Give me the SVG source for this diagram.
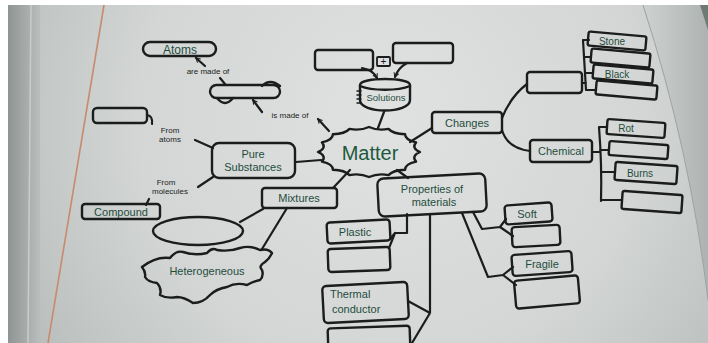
<svg xmlns="http://www.w3.org/2000/svg" width="708" height="343" viewBox="0 0 708 343">
<defs>
  <radialGradient id="page" cx="390" cy="120" r="420" gradientUnits="userSpaceOnUse">
    <stop offset="0" stop-color="#e0e2e1"/>
    <stop offset="0.6" stop-color="#d3d6d5"/>
    <stop offset="1" stop-color="#b9bebd"/>
  </radialGradient>
  <linearGradient id="leftstrip" x1="8" y1="0" x2="40" y2="0" gradientUnits="userSpaceOnUse">
    <stop offset="0" stop-color="#8f9594"/>
    <stop offset="1" stop-color="#b9bdbc"/>
  </linearGradient>
  <linearGradient id="fold" x1="640" y1="0" x2="708" y2="0" gradientUnits="userSpaceOnUse">
    <stop offset="0" stop-color="#d0d3d2"/>
    <stop offset="1" stop-color="#aeb3b2"/>
  </linearGradient>
  <marker id="arr" viewBox="0 0 10 10" refX="8" refY="5" markerWidth="6" markerHeight="6" orient="auto-start-reverse" markerUnits="userSpaceOnUse">
    <path d="M1,1 L8,5 L1,9" fill="none" stroke="#1b1d1c" stroke-width="1.8"/>
  </marker>
  <style>
    .b{fill:none;stroke:#1b1d1c;stroke-width:2.4;stroke-linejoin:round;stroke-linecap:round}
    .c{fill:none;stroke:#1b1d1c;stroke-width:2.2;stroke-linejoin:round;stroke-linecap:round}
    .t{font-family:"Liberation Sans",Arial,sans-serif;fill:#1f4d3c;font-size:11px;text-anchor:middle}
    .s{font-family:"Liberation Sans",Arial,sans-serif;fill:#1b1d1c;font-size:8px;text-anchor:middle}
    .sm{font-size:10px}
  </style>
</defs>

<!-- photo background -->
<rect x="0" y="0" width="708" height="343" fill="#ffffff"/>
<rect x="8" y="5" width="700" height="338" fill="url(#page)"/>
<rect x="8" y="5" width="32" height="338" fill="url(#leftstrip)"/>
<line x1="31" y1="5" x2="28" y2="343" stroke="#c9cccb" stroke-width="1.5"/>
<path d="M643,5 Q690,150 708,300 L708,5 Z" fill="url(#fold)"/>
<path d="M700,5 L708,5 L708,30 Z" fill="#6f7a72"/>
<path d="M643,5 Q690,150 708,300" fill="none" stroke="#9da3a1" stroke-width="1"/>
<line x1="104" y1="5" x2="48" y2="343" stroke="#c88a6e" stroke-width="1.6"/>

<g id="connectors">
  <line class="c" x1="205" y1="66" x2="196" y2="58" marker-end="url(#arr)"/>
  <line class="c" x1="225" y1="84" x2="220" y2="78"/>
  <line class="c" x1="262" y1="112" x2="253" y2="100" marker-end="url(#arr)"/>
  <line class="c" x1="329" y1="131" x2="318" y2="119" marker-end="url(#arr)"/>
  <text class="s" x="208" y="74">are made of</text>
  <text class="s" x="290" y="118">is made of</text>

  <path class="c" d="M147,115 Q153,116 152,124"/>
  <text class="s" x="170" y="133">From</text>
  <text class="s" x="170" y="142">atoms</text>
  <line class="c" x1="195" y1="140" x2="213" y2="148"/>
  <text class="s" x="166" y="185">From</text>
  <text class="s" x="170" y="194">molecules</text>
  <line class="c" x1="198" y1="187" x2="213" y2="177"/>
  <line class="c" x1="149" y1="199" x2="146" y2="205"/>

  <line class="c" x1="296" y1="162" x2="321" y2="160"/>
  <line class="c" x1="350" y1="170" x2="333" y2="188"/>
  <line class="c" x1="384" y1="112" x2="378" y2="128"/>
  <line class="c" x1="410" y1="142" x2="432" y2="128"/>
  <line class="c" x1="397" y1="170" x2="408" y2="178"/>

  <path class="c" d="M362,68 Q373,70 377,78" marker-end="url(#arr)"/>
  <path class="c" d="M407,63 Q398,68 395,77" marker-end="url(#arr)"/>

  <path class="c" d="M502,118 Q511,96 527,84"/>
  <path class="c" d="M502,130 Q507,148 530,151"/>
  <path class="c" d="M582,83 H586 M583,40 L586,90 M583,40 H589 M584,57 H591 M585,73 H593 M586,90 H596"/>
  <path class="c" d="M592,152 H600 M599,127 Q602,165 601,201 M599,127 H607 M600,150 H609 M601,172 H615 M601,200 H622"/>

  <line class="c" x1="263" y1="209" x2="240" y2="222"/>
  <line class="c" x1="287" y1="208" x2="262" y2="249"/>

  <path class="c" d="M407,214 V233 H395 L390,239 M395,233 L389,248"/>
  <path class="c" d="M430,214 V313 L408,301 M430,313 L412,343"/>
  <path class="c" d="M473,212 L482,229 L500,227 L506,219 M500,227 L513,236"/>
  <path class="c" d="M462,213 L488,277 L503,275 L513,267 M503,275 L516,285"/>
</g>

<g id="atoms">
  <rect class="b" x="143" y="42" width="73" height="14" rx="7"/>
  <text class="t" x="180" y="53.5" style="font-size:12px">Atoms</text>
</g>
<g id="blank-particle">
  <rect class="b" x="210" y="85" width="70" height="13" rx="6.5"/>
  <path class="b" d="M262,86 Q270,78 280,86"/>
  <path class="b" d="M217,98 Q225,108 233,98"/>
</g>
<g id="blank-left">
  <rect class="b" x="93" y="108" width="54" height="15" rx="4"/>
</g>
<g id="pure-substances">
  <rect class="b" x="212" y="143" width="83" height="35" rx="7"/>
  <text class="t" x="253" y="158">Pure</text>
  <text class="t" x="253" y="171">Substances</text>
</g>
<g id="compound">
  <rect class="b" x="82" y="204" width="78" height="15" rx="3"/>
  <text class="t" x="121" y="215.5">Compound</text>
</g>
<g id="mixtures">
  <rect class="b" x="262" y="188" width="75" height="20" rx="3"/>
  <text class="t" x="299" y="202">Mixtures</text>
</g>
<g id="matter">
  <path class="b" d="M420,152 Q411,155.9 416.1,161.6 Q405,164 405.1,169.7 Q393,170 388.5,175.1 Q378,173 369,177 Q360,173 349.5,175.1 Q345,170 332.9,169.7 Q333,164 321.9,161.6 Q327,155.9 318,152 Q327,148.1 321.9,142.4 Q333,140 332.9,134.3 Q345,134 349.5,128.9 Q360,131 369,127 Q378,131 388.5,128.9 Q393,134 405.1,134.3 Q405,140 416.1,142.4 Q411,148.1 420,152 Z"/>
  <text class="t" x="370" y="160" style="font-size:20px;fill:#1d5a3e">Matter</text>
</g>
<g id="solutions">
  <path class="b" d="M360,85 C360,77 410,77 410,85 L410,100 C410,114 360,114 360,100 Z"/>
  <path class="b" d="M360,86 C372,91 398,91 410,86"/>
  <path class="c" d="M357,91 H361 M357,95 H361 M357,99 H361 M357,103 H361" style="stroke-width:1.4"/>
  <text class="t" x="386" y="101" style="font-size:9.5px">Solutions</text>
</g>
<g id="blank-sol-left">
  <rect class="b" x="315" y="50" width="58" height="20" rx="3"/>
</g>
<g id="plus">
  <rect class="b" x="377" y="57" width="13" height="9" rx="1" style="stroke-width:1.8"/>
  <text class="s" x="383.5" y="65" style="font-size:10px">+</text>
</g>
<g id="blank-sol-right">
  <rect class="b" x="393" y="43" width="60" height="20" rx="3"/>
</g>
<g id="changes">
  <rect class="b" x="432" y="112" width="70" height="21" rx="3"/>
  <text class="t" x="467" y="127">Changes</text>
</g>
<g id="blank-physical">
  <rect class="b" x="527" y="72" width="55" height="21" rx="3"/>
</g>
<g id="stone">
  <rect class="b" x="588" y="34" width="58" height="14" rx="2" transform="rotate(5 617 41)"/>
  <text class="t sm" x="612" y="45">Stone</text>
</g>
<g id="blank-p2">
  <rect class="b" x="591" y="51" width="59" height="14" rx="2" transform="rotate(5 620 58)"/>
</g>
<g id="black">
  <rect class="b" x="593" y="67" width="60" height="14" rx="2" transform="rotate(5 623 74)"/>
  <text class="t sm" x="617" y="78">Black</text>
</g>
<g id="blank-p4">
  <rect class="b" x="596" y="83" width="61" height="14" rx="2" transform="rotate(5 626 90)"/>
</g>
<g id="chemical">
  <rect class="b" x="530" y="140" width="62" height="22" rx="3"/>
  <text class="t" x="561" y="155">Chemical</text>
</g>
<g id="rot">
  <rect class="b" x="607" y="121" width="58" height="15" rx="2" transform="rotate(4 636 128)"/>
  <text class="t sm" x="626" y="132">Rot</text>
</g>
<g id="blank-c2">
  <rect class="b" x="609" y="143" width="59" height="14" rx="2" transform="rotate(4 638 150)"/>
</g>
<g id="burns">
  <rect class="b" x="615" y="164" width="62" height="18" rx="2" transform="rotate(4 646 173)"/>
  <text class="t sm" x="640" y="177">Burns</text>
</g>
<g id="blank-c4">
  <rect class="b" x="622" y="193" width="60" height="18" rx="2" transform="rotate(4 652 202)"/>
</g>
<g id="properties">
  <rect class="b" x="378" y="176" width="108" height="38" rx="6" transform="rotate(-3 432 195)"/>
  <text class="t" x="432" y="193">Properties of</text>
  <text class="t" x="434" y="206">materials</text>
</g>
<g id="blank-ellipse">
  <ellipse class="b" cx="198" cy="231" rx="45" ry="14"/>
</g>
<g id="heterogeneous">
  <path class="b" d="M142,267 Q156,256 170,258 Q176,250 183,252 Q195,256 207,253 Q212,247 217,250 Q229,252 240,248 Q250,245 260,250 Q268,248 272,253 Q270,258 265,262 Q258,266 262,270 Q264,276 260,280 Q254,281 247,285 Q236,282 227,287 Q216,289 210,295 Q203,303 193,303 Q184,297 177,297 Q167,299 160,295 Q162,288 157,283 Q148,282 145,277 Q146,272 142,267 Z"/>
  <text class="t" x="207" y="275">Heterogeneous</text>
</g>
<g id="plastic">
  <rect class="b" x="327" y="221" width="63" height="21" rx="3" transform="rotate(-3 358 231)"/>
  <text class="t" x="355" y="236">Plastic</text>
</g>
<g id="blank-plastic">
  <rect class="b" x="328" y="248" width="62" height="23" rx="3" transform="rotate(-2 359 259)"/>
</g>
<g id="thermal">
  <rect class="b" x="323" y="284" width="85" height="37" rx="4" transform="rotate(-3 365 302)"/>
  <text class="t" x="330" y="298" style="text-anchor:start">Thermal</text>
  <text class="t" x="332" y="313" style="text-anchor:start">conductor</text>
</g>
<g id="blank-thermal">
  <rect class="b" x="328" y="327" width="82" height="25" rx="3" transform="rotate(-2 369 339)"/>
</g>
<g id="soft">
  <rect class="b" x="505" y="204" width="47" height="19" rx="3" transform="rotate(-4 528 213)"/>
  <text class="t" x="527" y="218">Soft</text>
</g>
<g id="blank-soft">
  <rect class="b" x="512" y="226" width="48" height="20" rx="3" transform="rotate(-3 536 236)"/>
</g>
<g id="fragile">
  <rect class="b" x="512" y="253" width="60" height="21" rx="3" transform="rotate(-4 542 263)"/>
  <text class="t" x="542" y="268">Fragile</text>
</g>
<g id="blank-fragile">
  <rect class="b" x="515" y="278" width="64" height="28" rx="3" transform="rotate(-5 547 292)"/>
</g>
</svg>
